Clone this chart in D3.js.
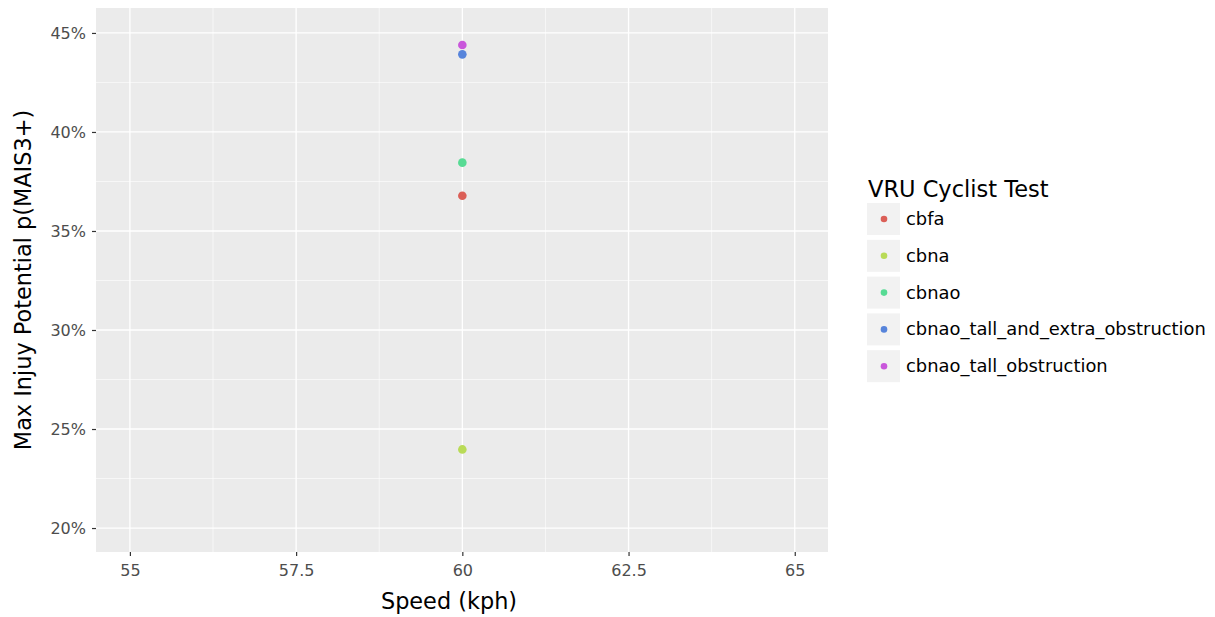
<!DOCTYPE html>
<html>
<head>
<meta charset="utf-8">
<script src="https://cdn.jsdelivr.net/npm/d3@7"></script>
<style>
  body { margin: 0; background: #fff; }
  text { font-family: "DejaVu Sans", sans-serif; }
</style>
</head>
<body>
<div id="chart"></div>
<script>
// data
var tests = ["cbfa", "cbna", "cbnao", "cbnao_tall_and_extra_obstruction", "cbnao_tall_obstruction"];
var speeds = [60, 60, 60, 60, 60];
var injury = [0.3678, 0.2397, 0.3845, 0.4392, 0.4439];
var colors = ["#DB5F57", "#B9DB57", "#57DB94", "#5784DB", "#C957DB"];
var xTicks = [55, 57.5, 60, 62.5, 65];
var yTicks = [0.20, 0.25, 0.30, 0.35, 0.40, 0.45];

var W = 1215, H = 617;
var panel = {left: 96, top: 8, right: 828, bottom: 552};

var svg = d3.select("#chart").append("svg")
  .attr("width", W).attr("height", H);

var x = d3.scaleLinear().domain([54.49, 65.5]).range([panel.left, panel.right]);
var y = d3.scaleLinear().domain([0.1879, 0.4626]).range([panel.bottom, panel.top]);

// panel background
svg.append("rect")
  .attr("x", panel.left).attr("y", panel.top)
  .attr("width", panel.right - panel.left).attr("height", panel.bottom - panel.top)
  .attr("fill", "#EBEBEB");

// minor grid
var xMinor = [56.25, 58.75, 61.25, 63.75];
var yMinor = [0.225, 0.275, 0.325, 0.375, 0.425];
var grid = svg.append("g");
grid.selectAll(".xm").data(xMinor).enter().append("line")
  .attr("x1", d => x(d)).attr("x2", d => x(d))
  .attr("y1", panel.top).attr("y2", panel.bottom)
  .attr("stroke", "#fff").attr("stroke-width", 0.6);
grid.selectAll(".ym").data(yMinor).enter().append("line")
  .attr("y1", d => y(d)).attr("y2", d => y(d))
  .attr("x1", panel.left).attr("x2", panel.right)
  .attr("stroke", "#fff").attr("stroke-width", 0.6);
// major grid
grid.selectAll(".xg").data(xTicks).enter().append("line")
  .attr("x1", d => x(d)).attr("x2", d => x(d))
  .attr("y1", panel.top).attr("y2", panel.bottom)
  .attr("stroke", "#fff").attr("stroke-width", 1.3);
grid.selectAll(".yg").data(yTicks).enter().append("line")
  .attr("y1", d => y(d)).attr("y2", d => y(d))
  .attr("x1", panel.left).attr("x2", panel.right)
  .attr("stroke", "#fff").attr("stroke-width", 1.3);

// axes
var xAxis = svg.append("g")
  .attr("transform", "translate(0," + panel.bottom + ")")
  .call(d3.axisBottom(x).tickValues(xTicks).tickSizeOuter(0).tickSize(4).tickPadding(9)
    .tickFormat(d3.format("")));
var yAxis = svg.append("g")
  .attr("transform", "translate(" + panel.left + ",0)")
  .call(d3.axisLeft(y).tickValues(yTicks).tickSizeOuter(0).tickSize(4).tickPadding(6)
    .tickFormat(d3.format(".0%")));
[xAxis, yAxis].forEach(function(a){
  a.select(".domain").remove();
  a.selectAll(".tick line").attr("stroke", "#333").attr("stroke-width", 1.2);
  a.selectAll(".tick text").attr("fill", "#4D4D4D").style("font-size", "16px")
    .style("font-family", "DejaVu Sans, sans-serif");
});

// points
svg.append("g").selectAll("circle")
  .data(tests).enter().append("circle")
  .attr("cx", (d, i) => x(speeds[i]))
  .attr("cy", (d, i) => y(injury[i]))
  .attr("r", 4.3)
  .attr("fill", (d, i) => colors[i]);

// axis titles
svg.append("text")
  .attr("x", 449).attr("y", 609)
  .attr("text-anchor", "middle").style("font-size", "22.4px").attr("fill", "#000")
  .text("Speed (kph)");
svg.append("text")
  .attr("transform", "translate(31," + ((panel.top + panel.bottom) / 2) + ") rotate(-90)")
  .attr("text-anchor", "middle").style("font-size", "22.4px").attr("fill", "#000")
  .text("Max Injuy Potential p(MAIS3+)");

// legend
var legend = svg.append("g").attr("transform", "translate(867,0)");
legend.append("text")
  .attr("x", 1).attr("y", 197)
  .style("font-size", "22.5px").attr("fill", "#000")
  .text("VRU Cyclist Test");
var keys = legend.selectAll(".key").data(tests).enter().append("g")
  .attr("transform", (d, i) => "translate(0," + (203 + i * 36.8) + ")");
keys.append("rect")
  .attr("width", 33).attr("height", 32).attr("fill", "#F2F2F2");
keys.append("circle")
  .attr("cx", 17).attr("cy", 16).attr("r", 3.3)
  .attr("fill", (d, i) => colors[i]);
keys.append("text")
  .attr("x", 39).attr("y", 22)
  .style("font-size", "17.9px").attr("fill", "#000")
  .text(d => d);
</script>
</body>
</html>
